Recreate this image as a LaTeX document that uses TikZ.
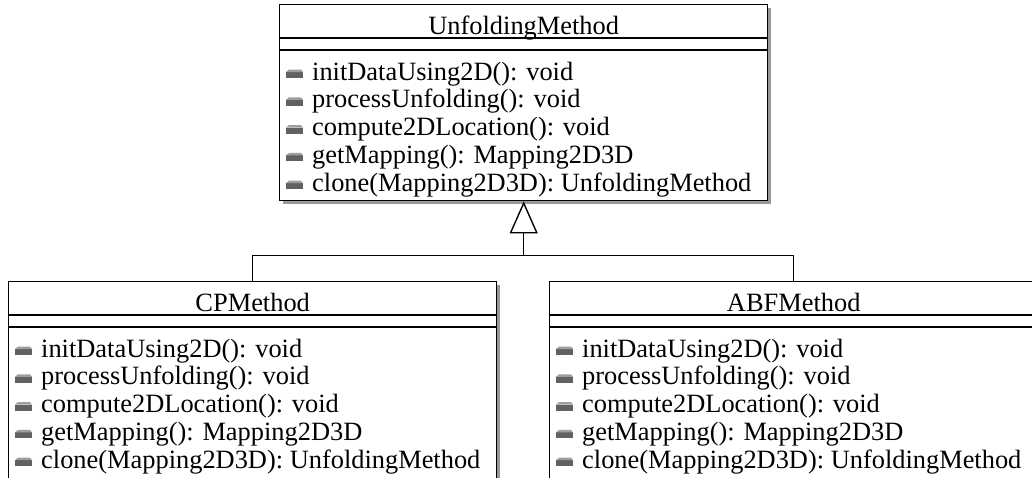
\documentclass[tikz,border=0pt]{standalone}
\usepackage{fontspec}
\setmainfont{Liberation Serif}
\usetikzlibrary{arrows.meta, positioning, calc, shadows}

\tikzset{
  classbox/.style={draw=black, line width=1.4pt, fill=white, anchor=north west,
    minimum width=488pt, minimum height=196pt, inner sep=0pt,
    drop shadow={shadow xshift=3pt, shadow yshift=-3pt, fill=black!40, opacity=1}},
  classline/.style={draw=black, line width=1.4pt},
  classtitle/.style={anchor=base, inner sep=0pt, font=\fontsize{26.4}{28}\selectfont},
  methodtext/.style={anchor=base west, inner sep=0pt, font=\fontsize{26.4}{28}\selectfont},
  inherit/.style={line width=1.4pt, -{Triangle[open, length=32pt, width=28pt]}},
  joinline/.style={line width=1.4pt},
}

% compartments, title and operations of one class box
\newcommand{\umlbody}[2]{%
  \draw[classline] ($(#1.north west)+(0,-34)$) -- ($(#1.north east)+(0,-34)$);
  \draw[classline] ($(#1.north west)+(0,-46)$) -- ($(#1.north east)+(0,-46)$);
  \node[classtitle] (#1-title) at ($(#1.north)+(0,-30)$) {#2};
  \foreach \meth [count=\i from 0] in {{initDataUsing2D(): void}, {processUnfolding(): void},
      {compute2DLocation(): void}, {getMapping(): Mapping2D3D},
      {clone(Mapping2D3D): UnfoldingMethod}} {
    \coordinate (#1-ic\i) at ($(#1.north west)+(7,-70-27.8*\i)$);
    \fill[black!62] ($(#1-ic\i)+(0,-4)$) rectangle ($(#1-ic\i)+(17,2)$);
    \fill[black!38] ($(#1-ic\i)+(0,2)$) -- ($(#1-ic\i)+(17,2)$) -- ($(#1-ic\i)+(15,4.5)$) -- ($(#1-ic\i)+(3,4.5)$) -- cycle;
    \node[methodtext] (#1-m\i) at ($(#1.north west)+(33,-76-27.8*\i)$) {\meth};
  }
}

\begin{document}
\begin{tikzpicture}[x=1pt, y=1pt]
  \useasboundingbox (0,0) rectangle (1032,-477);

  % abstract class
  \node[classbox] (unfold) at (279,-4) {};
  \umlbody{unfold}{UnfoldingMethod}

  % subclasses (cut off at the bottom)
  \node[classbox, minimum height=206pt] (cp) at (8,-281) {};
  \umlbody{cp}{CPMethod}
  \node[classbox, minimum height=206pt] (abf) at (549,-281) {};
  \umlbody{abf}{ABFMethod}

  % generalization
  \coordinate (join) at ($(unfold.south)+(0,-54)$);
  \draw[joinline] (cp.north) |- (join) -| (abf.north);
  \draw[inherit] (join) -- (unfold.south);
\end{tikzpicture}
\end{document}
